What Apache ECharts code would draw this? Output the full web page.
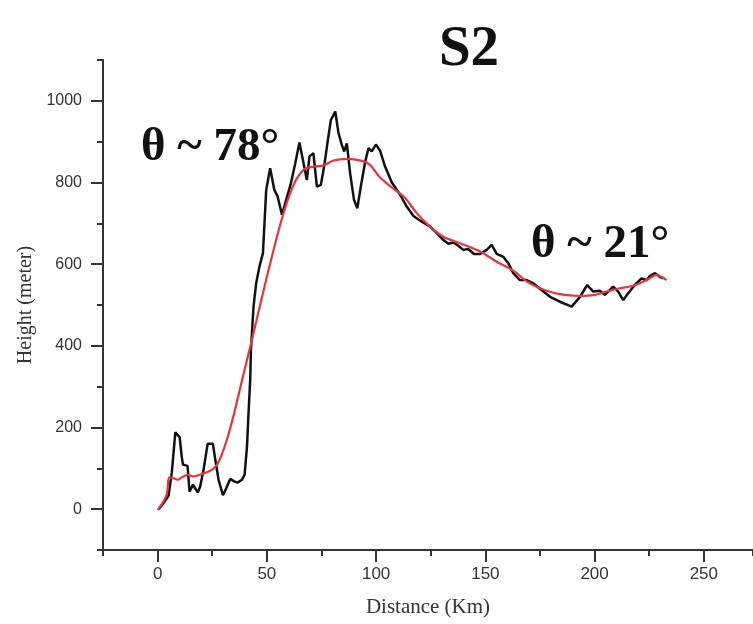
<!DOCTYPE html>
<html>
<head>
<meta charset="utf-8">
<title>S2 profile</title>
<script src="https://cdn.jsdelivr.net/npm/echarts@6/dist/echarts.min.js"></script>
<style>
  html, body { margin: 0; padding: 0; background: #fff; }
  #chart { width: 753px; height: 624px; }
</style>
</head>
<body>
<div id="chart"></div>
<script>
// elevation profile (black)
var profileDist = [0.5, 2.7, 5.0, 6.5, 8.1, 10.1, 11.0, 11.6, 12.5, 13.7, 14.6, 16.2, 17.3, 18.4, 19.5, 21, 22.9, 25.3, 26.4, 27.9, 29.9, 31.4, 33.2, 35.1, 36.6, 38.6, 39.8, 40.9, 41.6, 42.4, 42.7, 43.9, 45.1, 46.6, 48.2, 49.7, 51.5, 53.4, 54.9, 56.9, 58.8, 61, 63, 64.9, 66.8, 68.3, 69.5, 71.3, 72.9, 74.7, 76.2, 77.7, 79.3, 81.3, 82.8, 84.3, 85.4, 86.6, 88.1, 89.9, 91.4, 93, 95, 96.5, 98, 99.9, 101.8, 104.1, 107.2, 111, 114, 117.1, 120.9, 124.7, 127.8, 130.8, 133.1, 135.3, 137.6, 139.9, 142.2, 144.8, 147.6, 150.6, 152.9, 155.2, 158.2, 160.5, 162.8, 165.8, 168.9, 171.9, 175, 179.6, 184.1, 189.5, 193.3, 196.6, 199.4, 202.4, 204.7, 208.5, 210.8, 213.1, 215.4, 218.4, 221.5, 223.8, 225.3, 227.6, 229.9, 231.4];
var profileHeight = [0, 15, 33, 90, 188, 176, 130, 109, 110, 106, 43, 60, 50, 41, 56, 96, 160, 160, 121, 72, 34, 51, 74, 68, 65, 72, 84, 153, 235, 320, 390, 496, 553, 594, 627, 782, 835, 782, 766, 721, 757, 798, 847, 898, 847, 806, 864, 872, 790, 794, 839, 896, 953, 974, 921, 892, 876, 896, 823, 757, 737, 790, 851, 884, 876, 893, 878, 839, 800, 770, 741, 718, 704, 692, 676, 659, 650, 653, 645, 635, 637, 625, 625, 635, 647, 625, 618, 602, 578, 561, 561, 553, 540, 520, 508, 496, 520, 549, 533, 535, 525, 545, 533, 512, 529, 549, 565, 561, 571, 578, 569, 565];

// fitted curve (red)
var fitDist = [0, 2.7, 4.3, 5.3, 7.3, 9.1, 11.1, 13.7, 16.5, 20.3, 24.1, 26.8, 29, 31.7, 34.8, 38.6, 42.4, 50, 56.9, 62.2, 66.8, 71.3, 75.9, 80.5, 86.6, 93.5, 97.3, 101.8, 107.9, 113.3, 118.6, 124.7, 130.8, 138.4, 147.6, 155.2, 162.8, 168.9, 175, 181.1, 187.2, 193.3, 199.4, 205.5, 211.6, 217.7, 223.8, 228.4, 230.6, 232.9];
var fitHeight = [-2, 19, 39, 78, 76, 72, 78, 84, 80, 86, 94, 106, 129, 170, 230, 315, 398, 569, 712, 794, 831, 839, 842, 854, 858, 853, 843, 812, 785, 762, 725, 692, 667, 651, 631, 606, 584, 558, 541, 530, 524, 522, 524, 533, 541, 547, 561, 574, 569, 561];

var xRange = [-25, 272.5];
var yRange = [-100, 1100];

var serif = "'Times New Roman', 'Liberation Serif', serif";
var sans = "Arial, 'Liberation Sans', sans-serif";

function pairs(xs, ys) {
  return xs.map(function (x, i) { return [x, ys[i]]; });
}

var chart = echarts.init(document.getElementById("chart"));

var option = {
  backgroundColor: "#fff",
  animation: false,
  title: {
    text: "S2",
    left: 464,
    top: 17,
    textAlign: "center",
    textStyle: { fontFamily: serif, fontWeight: "bold", fontSize: 57, color: "#111" },
  },
  graphic: [
    {
      type: "text",
      left: 141,
      top: 124,
      style: { text: "θ ~ 78°", font: "bold 47px " + serif, fill: "#111" },
    },
    {
      type: "text",
      left: 531,
      top: 221,
      style: { text: "θ ~ 21°", font: "bold 47px " + serif, fill: "#111" },
    },
  ],
  grid: { left: 103, right: 0, top: 60, bottom: 74 },
  xAxis: [
    {
      type: "value",
      min: xRange[0],
      max: xRange[1],
      name: "Distance (Km)",
      nameLocation: "middle",
      nameGap: 47,
      nameTextStyle: { fontFamily: serif, fontSize: 21, color: "#333" },
      axisLine: { onZero: false, lineStyle: { color: "#333", width: 2 } },
      axisTick: { length: 12, lineStyle: { color: "#333", width: 2 } },
      axisLabel: {
        margin: 16,
        showMinLabel: false,
        showMaxLabel: false,
        fontFamily: sans,
        fontSize: 17,
        color: "#333",
      },
      splitLine: { show: false },
    },
    {
      // minor ticks
      type: "value",
      min: xRange[0],
      max: xRange[1],
      interval: 25,
      position: "bottom",
      axisLine: { show: false, onZero: false },
      axisTick: { length: 6, lineStyle: { color: "#333", width: 2 } },
      axisLabel: { show: false },
      splitLine: { show: false },
    },
  ],
  yAxis: [
    {
      type: "value",
      min: yRange[0],
      max: yRange[1],
      name: "Height (meter)",
      nameLocation: "middle",
      nameGap: 63,
      nameTextStyle: { fontFamily: serif, fontSize: 20, color: "#333" },
      axisLine: { onZero: false, lineStyle: { color: "#333", width: 2 } },
      axisTick: { length: 12, lineStyle: { color: "#333", width: 2 } },
      axisLabel: {
        margin: 21,
        showMinLabel: false,
        showMaxLabel: false,
        fontFamily: sans,
        fontSize: 16,
        color: "#333",
        formatter: function (v) { return String(v); },
      },
      splitLine: { show: false },
    },
    {
      // minor ticks
      type: "value",
      min: yRange[0],
      max: yRange[1],
      interval: 100,
      position: "left",
      axisLine: { show: false, onZero: false },
      axisTick: { length: 6, lineStyle: { color: "#333", width: 2 } },
      axisLabel: { show: false },
      splitLine: { show: false },
    },
  ],
  series: [
    {
      type: "line",
      data: pairs(profileDist, profileHeight),
      showSymbol: false,
      lineStyle: { color: "#111", width: 2.5 },
      z: 2,
    },
    {
      type: "line",
      data: pairs(fitDist, fitHeight),
      showSymbol: false,
      smooth: 0.3,
      lineStyle: { color: "#e8343a", width: 2.2 },
      z: 3,
    },
  ],
};

chart.setOption(option);
</script>
</body>
</html>
